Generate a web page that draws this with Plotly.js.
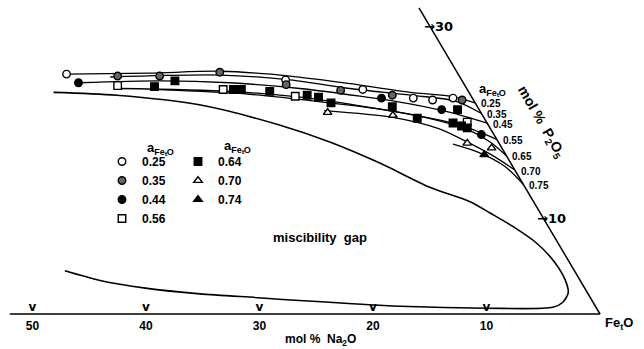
<!DOCTYPE html>
<html><head><meta charset="utf-8">
<script src="https://cdn.plot.ly/plotly-3.0.1.min.js"></script>
<style>html,body{margin:0;padding:0;background:#fff}#chart{width:644px;height:349px}</style>
</head><body><div id="chart"></div>
<script>
// All compositions in mol% : n = Na2O, p = P2O5 (balance FetO)
const curveLabels = ['0.25','0.35','0.45','0.55','0.65','0.70','0.75'];
const c025_n = [34.5, 27.1, 20.8, 14.9, 10.0, 5.2, 1.9, 0];
const c025_p = [25.0, 25.1, 25.3, 24.8, 24.0, 23.1, 22.7, 22.0];
const c035_n = [30.8, 21.0, 15.1, 10.3, 5.3, 1.7, 0];
const c035_p = [24.7, 24.9, 24.4, 23.5, 22.8, 22.2, 20.9];
const c045_n = [33.9, 26.6, 20.6, 14.7, 9.8, 5.8, 2.7, 0];
const c045_p = [24.1, 24.3, 24.1, 23.5, 22.7, 21.9, 21.0, 19.9];
const c055_n = [30.7, 21.0, 15.1, 10.3, 6.3, 2.5, 0];
const c055_p = [23.5, 23.2, 22.6, 21.7, 20.8, 19.7, 18.2];
const c065_n = [27.5, 19.4, 12.8, 7.9, 4.0, 1.9, 0.7, 0];
const c065_p = [23.4, 22.9, 22.0, 21.2, 20.1, 19.1, 17.9, 16.5];
const c070_n = [13.7, 8.0, 4.5, 2.6, 1.1, 0];
const c070_p = [21.2, 20.5, 19.3, 17.8, 16.4, 15.0];
const c075_n = [4.1, 2.2, 0.7, 0];
const c075_p = [17.7, 16.8, 15.4, 13.5];

const gap_n = [36.6, 31.2, 24.4, 18.4, 14.8, 11.5, 8.4, 5.6, 4.4, 3.1, 1.9, 1.3, 1.3, 1.7, 2.7, 3.8, 9.7, 17.2, 25.8, 29.3, 34.2, 38.7, 42.3, 44.9];
const gap_p = [23.1, 22.8, 21.8, 19.7, 17.9, 15.7, 13.2, 11.7, 10.5, 9.1, 7.4, 5.4, 3.5, 2.2, 1.2, 0.7, 0.6, 0.8, 1.4, 1.7, 2.1, 2.7, 3.5, 4.5];

// measured points, grouped by a(FetO)
const pts025_n = [34.5, 15.5, 9.2, 5.2, 3.6, 1.7];
const pts025_p = [25.0, 24.4, 23.4, 22.5, 22.3, 22.5];
const pts035_n = [30.1, 26.4, 20.9, 15.7, 11.2, 6.9, 1.0];
const pts035_p = [24.8, 24.8, 25.2, 23.9, 23.3, 22.8, 22.3];
const pts044_n = [33.9, 8.0, 3.3, 1.1];
const pts044_p = [24.1, 22.5, 21.3, 18.7];
const pts056_n = [30.6, 21.5, 15.5, 1.7];
const pts056_p = [23.8, 23.4, 22.7, 20.0];
const pts064_n = [27.4, 25.3, 20.6, 19.9, 17.5, 14.4, 13.5, 12.7, 7.5, 5.9, 1.9, 3.0, 2.4, 2.0];
const pts064_p = [23.7, 24.3, 23.4, 23.4, 23.2, 22.8, 22.6, 22.0, 21.6, 20.4, 21.3, 19.9, 19.6, 19.4];
const pts070_n = [13.5, 7.9, 2.8, 0.9];
const pts070_p = [21.0, 20.7, 17.8, 17.3];
const pts074_n = [1.9];
const pts074_p = [16.6];

const na2oTicks = [50, 40, 30, 20, 10];
const p2o5Ticks = [10, 30];
const axisNa2oMax = 52;
const axisP2o5Max = 31.9;

const S3 = Math.sqrt(3) / 2;
const X = (n, p) => n.map((v, i) => v + p[i] / 2);
const Y = (n, p) => p.map(v => v * S3);

const FONT = 'Liberation Sans, Arial, sans-serif';
const traces = [];
const line = (n, p, w) => ({type: 'scatter', mode: 'lines', x: X(n, p), y: Y(n, p),
  line: {color: '#000', width: w || 1.4, shape: 'spline', smoothing: 0.8},
  showlegend: false, hoverinfo: 'skip'});

// frame: Na2O axis and FetO-P2O5 edge
traces.push({type: 'scatter', mode: 'lines', x: X([axisNa2oMax, 0, 0], [0, 0, axisP2o5Max]),
  y: Y([axisNa2oMax, 0, 0], [0, 0, axisP2o5Max]), line: {color: '#000', width: 1.5},
  showlegend: false, hoverinfo: 'skip'});
// V tick marks on Na2O axis
traces.push({type: 'scatter', mode: 'text', x: na2oTicks, y: na2oTicks.map(() => 0),
  text: na2oTicks.map(() => 'v'), textposition: 'top center',
  textfont: {family: 'DejaVu Sans, sans-serif', size: 12, color: '#000', weight: 'bold'}, showlegend: false, hoverinfo: 'skip'});

traces.push(line(gap_n, gap_p, 1.6));
[[c025_n, c025_p], [c035_n, c035_p], [c045_n, c045_p], [c055_n, c055_p],
 [c065_n, c065_p], [c070_n, c070_p], [c075_n, c075_p]].forEach(c => traces.push(line(c[0], c[1], 1.3)));

const mk = (n, p, name, symbol, fill, leg) => ({type: 'scatter', mode: 'markers', name: name,
  x: X(n, p), y: Y(n, p), legend: leg,
  marker: {symbol: symbol, size: 7.5, color: fill, line: {color: '#000', width: 1.4}}});
traces.push(mk(pts025_n, pts025_p, '0.25', 'circle', '#fff', 'legend'));
traces.push(mk(pts035_n, pts035_p, '0.35', 'circle', '#666', 'legend'));
traces.push(mk(pts044_n, pts044_p, '0.44', 'circle', '#000', 'legend'));
traces.push(mk(pts056_n, pts056_p, '0.56', 'square', '#fff', 'legend'));
traces.push(mk(pts064_n, pts064_p, '0.64', 'square', '#000', 'legend2'));
traces.push(mk(pts070_n, pts070_p, '0.70', 'triangle-up', '#fff', 'legend2'));
traces.push(mk(pts074_n, pts074_p, '0.74', 'triangle-up', '#000', 'legend2'));

const plotH = 317;
const px = x => x / 644;
const py = y => (plotH - y) / plotH;
const tf = (size, bold, fam) => ({family: fam || FONT, size: size, color: '#000', weight: bold ? 'bold' : 'normal'});
const ann = [];
const A = (o) => Object.assign({showarrow: false, xanchor: 'center', yanchor: 'middle', xref: 'paper', yref: 'paper'}, o);
const endP = [c025_p, c035_p, c045_p, c055_p, c065_p, c070_p, c075_p].map(a => a[a.length - 1]);
curveLabels.forEach((t, i) => ann.push(A({x: endP[i] / 2, y: endP[i] * S3, xref: 'x', yref: 'y',
  text: t, xanchor: 'left', xshift: 4, yshift: -1, font: tf(10, true)})));
p2o5Ticks.forEach(v => ann.push(A({x: v / 2, y: v * S3, xref: 'x', yref: 'y', text: '→' + v,
  xanchor: 'left', xshift: -8, font: tf(13, true, 'DejaVu Sans, sans-serif')})));
ann.push(A({x: px(160), y: py(148), text: 'a<sub>FeₜO</sub>', font: tf(13, true)}));
ann.push(A({x: px(238), y: py(146), text: 'a<sub>FeₜO</sub>', font: tf(13, true)}));
ann.push(A({x: px(492), y: py(89), text: 'a<sub>FeₜO</sub>', font: tf(13, true)}));
ann.push(A({x: px(320), y: py(237), text: 'miscibility  gap', font: tf(13, true)}));
ann.push(A({x: px(320), y: py(340), text: 'mol %  Na<sub>2</sub>O', font: tf(12, true)}));
ann.push(A({x: px(603), y: py(323), text: 'Fe<sub>t</sub>O', xanchor: 'left', font: tf(13, true)}));
ann.push(A({x: px(541), y: py(122), text: 'mol %  P<sub>2</sub>O<sub>5</sub>', textangle: 60, font: tf(14, true)}));

const xLeft = 600 / 11.35, xRight = -44 / 11.35;
const yBot = -3 / 11.08, yTop = 314 / 11.08;
const layout = {
  width: 644, height: 349, margin: {l: 0, r: 0, t: 0, b: 32},
  paper_bgcolor: '#fff', plot_bgcolor: 'rgba(0,0,0,0)',
  font: {family: FONT, color: '#000'},
  xaxis: {range: [xLeft, xRight], showgrid: false, zeroline: false, showline: false, ticks: '',
    automargin: false, tickvals: na2oTicks, ticktext: na2oTicks.map(String), tickfont: tf(12, true)},
  yaxis: {range: [yBot, yTop], visible: false, showgrid: false, zeroline: false, automargin: false},
  legend: {x: px(102), y: py(147), xanchor: 'left', yanchor: 'top', bgcolor: 'rgba(0,0,0,0)',
    font: tf(12, true), itemclick: false, traceorder: 'normal', tracegroupgap: 0},
  legend2: {x: px(178), y: py(147), xanchor: 'left', yanchor: 'top', bgcolor: 'rgba(0,0,0,0)',
    font: tf(12, true), itemclick: false, traceorder: 'normal', tracegroupgap: 0},
  annotations: ann, showlegend: true
};
Plotly.newPlot('chart', traces, layout, {staticPlot: true, displayModeBar: false});
</script></body></html>
